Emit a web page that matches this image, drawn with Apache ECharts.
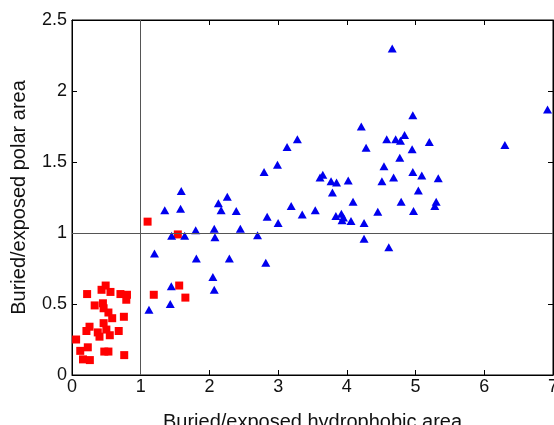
<!DOCTYPE html>
<html>
<head>
<meta charset="utf-8">
<script src="https://cdn.jsdelivr.net/npm/echarts@6/dist/echarts.min.js"></script>
<style>
  html, body { margin: 0; padding: 0; background: #fff; }
  #chart { width: 554px; height: 425px; }
</style>
</head>
<body>
<div id="chart"></div>
<script>
// datos: [hidrofobico, polar]
const cuadradosRojos = [
  [0.22, 0.57], [0.49, 0.63], [0.43, 0.60], [0.56, 0.585], [0.705, 0.57],
  [0.80, 0.565], [0.79, 0.53], [0.33, 0.49], [0.45, 0.505], [0.46, 0.47],
  [0.53, 0.44], [0.585, 0.40], [0.755, 0.41], [0.255, 0.34], [0.46, 0.365],
  [0.21, 0.31], [0.375, 0.30], [0.50, 0.32], [0.55, 0.28], [0.68, 0.31],
  [0.40, 0.27], [0.06, 0.25], [0.12, 0.17], [0.23, 0.195], [0.16, 0.11],
  [0.26, 0.105], [0.47, 0.165], [0.53, 0.165], [0.76, 0.14],
  [1.19, 0.565], [1.56, 0.63], [1.65, 0.545], [1.10, 1.08], [1.54, 0.99]
];
const triangulosAzules = [
  [1.445, 0.625], [1.43, 0.50], [1.12, 0.46], [1.35, 1.16], [1.59, 1.295],
  [1.58, 1.17], [1.45, 0.98], [1.64, 0.98], [1.80, 1.02], [2.07, 1.03],
  [2.08, 0.97], [2.13, 1.21], [2.17, 1.16], [2.26, 1.255], [2.39, 1.155],
  [2.45, 1.03], [2.70, 0.985], [2.795, 1.43], [2.99, 1.48], [3.19, 1.19],
  [2.84, 1.115], [3.00, 1.07], [1.20, 0.855], [1.81, 0.82], [2.29, 0.82],
  [2.82, 0.79], [2.05, 0.69], [2.07, 0.60],
  [4.66, 2.30], [6.92, 1.87], [6.30, 1.62], [4.96, 1.83], [4.21, 1.75],
  [3.28, 1.66], [3.13, 1.605], [4.58, 1.66], [4.71, 1.66], [4.78, 1.65],
  [4.84, 1.69], [4.28, 1.60], [4.95, 1.59], [5.20, 1.64], [4.77, 1.53],
  [4.54, 1.47], [3.61, 1.39], [3.65, 1.41], [3.77, 1.365], [3.85, 1.355],
  [4.02, 1.37], [4.51, 1.365], [4.68, 1.39], [4.96, 1.43], [5.09, 1.405],
  [5.33, 1.385], [3.79, 1.285], [5.04, 1.30], [4.09, 1.22], [4.79, 1.22],
  [5.30, 1.22], [5.28, 1.19], [4.97, 1.155], [3.35, 1.13], [3.54, 1.16],
  [3.84, 1.12], [3.92, 1.135], [3.95, 1.11], [3.93, 1.09], [4.06, 1.085],
  [4.45, 1.15], [4.25, 1.07], [4.25, 0.96], [4.61, 0.90]
];
const lineaX = 1;
const lineaY = 1;

const fuente = 'Liberation Sans, Arial, Helvetica, sans-serif';
const ejeLinea = { show: true, onZero: false, lineStyle: { color: '#000', width: 1 } };
const marcas = { show: true, inside: true, length: 5, lineStyle: { color: '#000' } };

const myChart = echarts.init(document.getElementById('chart'));
myChart.setOption({
  animation: false,
  grid: {
    left: 72, right: 1, top: 20, bottom: 50, outerBoundsMode: 'none', containLabel: false,
    show: true, borderColor: '#000', borderWidth: 1, backgroundColor: 'transparent'
  },
  xAxis: [
    {
      type: 'value', min: 0, max: 7, interval: 1, position: 'bottom',
      name: 'Buried/exposed hydrophobic area', nameLocation: 'middle', nameGap: 37,
      nameTextStyle: { fontFamily: fuente, fontSize: 20, color: '#111' },
      axisLine: ejeLinea, axisTick: marcas, splitLine: { show: false },
      axisLabel: { fontFamily: fuente, fontSize: 18, color: '#111', margin: 3 }
    },
    {
      type: 'value', min: 0, max: 7, interval: 1, position: 'top',
      axisLine: ejeLinea, axisTick: marcas, splitLine: { show: false },
      axisLabel: { show: false }
    }
  ],
  yAxis: [
    {
      type: 'value', min: 0, max: 2.5, interval: 0.5, position: 'left',
      name: 'Buried/exposed polar area', nameLocation: 'middle', nameGap: 43,
      nameTextStyle: { fontFamily: fuente, fontSize: 20, color: '#111' },
      axisLine: ejeLinea, axisTick: marcas, splitLine: { show: false },
      axisLabel: { fontFamily: fuente, fontSize: 18, color: '#111', margin: 5 }
    },
    {
      type: 'value', min: 0, max: 2.5, interval: 0.5, position: 'right',
      axisLine: ejeLinea, axisTick: marcas, splitLine: { show: false },
      axisLabel: { show: false }
    }
  ],
  series: [
    {
      type: 'scatter', name: 'rojo', data: cuadradosRojos,
      symbol: 'rect', symbolSize: 8,
      itemStyle: { color: '#ff0000', opacity: 1 },
      markLine: {
        silent: true, symbol: 'none', label: { show: false },
        lineStyle: { color: '#555', width: 1, type: 'solid' },
        data: [{ xAxis: lineaX }, { yAxis: lineaY }]
      },
      z: 3
    },
    {
      type: 'scatter', name: 'azul', data: triangulosAzules,
      symbol: 'triangle', symbolSize: [9, 8],
      itemStyle: { color: '#0000ee', opacity: 1 },
      z: 3
    },
    {
      type: 'scatter', name: 'marco', data: [],
      xAxisIndex: 1, yAxisIndex: 1, silent: true
    }
  ]
});
</script>
</body>
</html>
